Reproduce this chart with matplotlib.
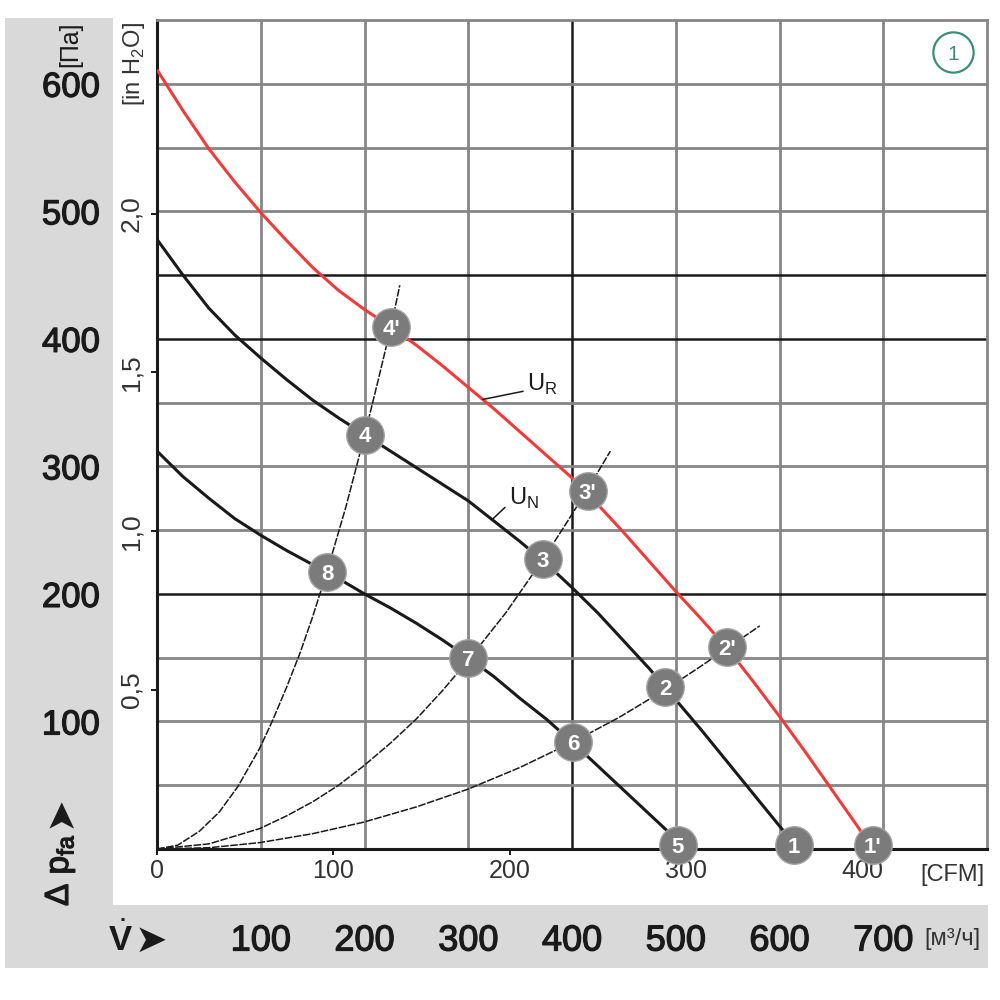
import matplotlib
matplotlib.use("Agg")
import matplotlib.pyplot as plt
import matplotlib.transforms as mtransforms
import matplotlib.patheffects as pe
from matplotlib.patches import Rectangle
from matplotlib import font_manager
import numpy as np

# pick a narrow sans font if there is one
try:
    font_manager.findfont("Liberation Sans Narrow", fallback_to_default=False)
    NARROW = "Liberation Sans Narrow"
except Exception:
    NARROW = "Liberation Sans"

plt.rcParams['font.family'] = [NARROW, 'DejaVu Sans']
plt.rcParams['mathtext.fontset'] = 'custom'
plt.rcParams['mathtext.rm'] = NARROW
plt.rcParams['mathtext.bf'] = NARROW + ':bold'

# fan curves (flow in m3/h, pressure in Pa)
ur_flow = [0, 25, 50, 75, 100, 125, 150, 175, 200, 226, 250, 275, 300, 325, 350, 375,
           400, 425, 450, 475, 500, 525, 550, 575, 600, 625, 650, 675, 690]
ur_pres = [611, 579, 549, 523, 499, 477, 456, 438, 423, 409, 395, 379, 362, 345, 327, 309,
           291, 270, 248, 225, 202, 180, 157, 131, 104, 76, 47, 18, 0]

un_flow = [0, 25, 50, 75, 100, 125, 150, 175, 200, 225, 250, 275, 300, 325, 350, 375,
           400, 425, 450, 475, 500, 525, 550, 575, 600, 618]
un_pres = [478, 450, 424, 403, 385, 368, 352, 338, 325, 312, 299, 286, 273, 257, 241, 224,
           205, 185, 163, 141, 117, 93, 68, 43, 18, 0]

low_flow = [0, 25, 50, 75, 100, 125, 150, 175, 200, 225, 250, 275, 300, 325, 350, 375,
            400, 425, 450, 475, 500, 506]
low_pres = [312, 292, 275, 259, 246, 234, 223, 212, 200, 189, 177, 164, 150, 135, 118, 102,
            84, 65, 46, 27, 8, 0]

# system curves (thin lines through the origin)
sys_a_flow = [0, 20, 41, 60, 78, 99, 111, 125, 138, 150, 164, 182, 200, 213, 226, 234]
sys_a_pres = [0, 3, 14, 29, 49, 79, 100, 127, 154, 182, 218, 268, 324, 367, 411, 442]
sys_b_flow = [0, 50, 99, 125, 150, 175, 199, 225, 250, 275, 300, 336, 372, 395, 415, 437]
sys_b_pres = [0, 4, 16, 26, 37, 50, 65, 83, 102, 124, 148, 185, 227, 256, 282, 312]
sys_c_flow = [0, 50, 99, 150, 199, 250, 300, 350, 401, 445, 490, 520, 549, 581]
sys_c_pres = [0, 1, 5, 12, 21, 33, 47, 64, 84, 103, 125, 141, 157, 175]

# numbered operating points
pt_labels = ["1", "2", "3", "4", "5", "6", "7", "8", "1'", "2'", "3'", "4'"]
pt_flow = [614, 490, 372, 200, 502, 401, 300, 164, 690, 549, 415, 226]
pt_pres = [3, 127, 227, 325, 3, 84, 150, 217, 3, 158, 281, 409]

# axis labels
pa_ticks = [100, 200, 300, 400, 500, 600]
m3h_ticks = [100, 200, 300, 400, 500, 600, 700]
cfm_ticks = [0, 100, 200, 300, 400]
inh2o_ticks = [0.5, 1.0, 1.5, 2.0]
inh2o_labels = ["0,5", "1,0", "1,5", "2,0"]

flow_grid = [100, 200, 300, 400, 500, 600, 700]
pres_grid = [50, 100, 150, 200, 250, 300, 350, 400, 450, 500, 550, 600]
dark_flow = [400]
dark_pres = [200, 400, 450]

GRAY = '#868686'
DARK = '#1a1a1a'
RED = '#ef3b39'
BAND = '#d9d9d9'

# slightly heavier strokes for the big band labels
medium = [pe.withStroke(linewidth=0.9, foreground=DARK)]

fig = plt.figure(figsize=(10, 10), dpi=100)
fig.patch.set_facecolor('white')

# grey L-shaped band, kept behind everything
fig.patches.append(Rectangle((0.005, 0.032), 0.108, 0.950, transform=fig.transFigure,
                             facecolor=BAND, edgecolor='none', zorder=-5))
fig.patches.append(Rectangle((0.005, 0.032), 0.983, 0.063, transform=fig.transFigure,
                             facecolor=BAND, edgecolor='none', zorder=-5))

ax = fig.add_axes([0.157, 0.151, 0.830, 0.829])
ax.set_xlim(0, 800)
ax.set_ylim(0, 650)
ax.set_xticks([])
ax.set_yticks([])

for q in flow_grid:
    dark = q in dark_flow
    ax.axvline(q, color=DARK if dark else GRAY, lw=1.8 if dark else 2.0, zorder=1)
for p in pres_grid:
    dark = p in dark_pres
    ax.axhline(p, color=DARK if dark else GRAY, lw=1.8 if dark else 2.0, zorder=1)

for side in ['left', 'bottom']:
    ax.spines[side].set_color(DARK)
    ax.spines[side].set_linewidth(2.2)
for side in ['top', 'right']:
    ax.spines[side].set_color(GRAY)
    ax.spines[side].set_linewidth(2.0)

# system curves
for fx, py in [(sys_a_flow, sys_a_pres), (sys_b_flow, sys_b_pres), (sys_c_flow, sys_c_pres)]:
    ax.plot(fx, py, color=DARK, lw=1.1, ls=(0, (5, 1)), zorder=2)

# fan curves
ax.plot(low_flow, low_pres, color=DARK, lw=2.2, zorder=3, solid_capstyle='butt')
ax.plot(un_flow, un_pres, color=DARK, lw=2.2, zorder=3, solid_capstyle='butt')
ax.plot(ur_flow, ur_pres, color=RED, lw=2.2, zorder=3, solid_capstyle='butt')

# operating points
for lab, fx, py in zip(pt_labels, pt_flow, pt_pres):
    ax.plot(fx, py, 'o', ms=27, mfc='#7b7b7b', mec='#a3a3a3', mew=1.0,
            clip_on=False, zorder=5)
    ax.text(fx, py, lab, color='white', fontsize=16, fontweight='bold',
            ha='center', va='center_baseline', zorder=6, clip_on=False)

# curve labels
ax.annotate(r'U$_\mathregular{R}$', xy=(314, np.interp(314, ur_flow, ur_pres)),
            xytext=(32, 11), textcoords='offset points', fontsize=17,
            ha='left', va='center', color=DARK,
            arrowprops=dict(arrowstyle='-', lw=1.1, color=DARK, shrinkA=1, shrinkB=0,
                            relpos=(0, 0.25)))
ax.annotate(r'U$_\mathregular{N}$', xy=(323, np.interp(323, un_flow, un_pres)),
            xytext=(12, 15), textcoords='offset points', fontsize=17,
            ha='left', va='center', color=DARK,
            arrowprops=dict(arrowstyle='-', lw=1.1, color=DARK, shrinkA=1, shrinkB=0,
                            relpos=(0, 0.3)))

# circled 1 in the corner
ax.plot([0.959], [0.961], transform=ax.transAxes, marker='o', ms=29, mfc='white',
        mec='#3a8f78', mew=1.6, zorder=6, clip_on=False)
ax.text(0.959, 0.961, '1', transform=ax.transAxes, color='#3a8f78', fontsize=15,
        ha='center', va='center_baseline', zorder=7)

# Pa labels in the left band
tr_y = mtransforms.blended_transform_factory(fig.transFigure, ax.transData)
for p in pa_ticks:
    ax.text(0.100, p, str(p), transform=tr_y, fontsize=25, ha='right',
            va='center_baseline', color=DARK, clip_on=False, path_effects=medium)
fig.text(0.070, 0.956, '[Па]', rotation=90, fontsize=18, ha='center', va='center', color=DARK)

# in H2O axis
sec_y = ax.secondary_yaxis('left', functions=(lambda p: p / 249.09, lambda h: h * 249.09))
sec_y.set_yticks(inh2o_ticks, labels=inh2o_labels, rotation=90, va='center')
sec_y.tick_params(length=4, width=1.4, pad=6, labelsize=19, labelcolor='#333333', color=DARK)
sec_y.spines['left'].set_visible(False)
fig.text(0.134, 0.936, '[in H$_\\mathregular{2}$O]', rotation=90, fontsize=17,
         ha='center', va='center', color='#333333')

# CFM axis
sec_x = ax.secondary_xaxis('bottom', functions=(lambda q: q / 1.699, lambda c: c * 1.699))
sec_x.set_xticks(cfm_ticks, labels=[str(c) for c in cfm_ticks])
sec_x.tick_params(length=4, width=1.4, pad=3, labelsize=18, labelcolor='#333333', color=DARK)
sec_x.spines['bottom'].set_visible(False)
fig.text(0.952, 0.127, '[CFM]', fontsize=17, ha='center', va='center_baseline', color='#333333')

# m3/h labels in the bottom band
tr_x = mtransforms.blended_transform_factory(ax.transData, fig.transFigure)
for q in m3h_ticks:
    ax.text(q, 0.063, str(q), transform=tr_x, fontsize=26, ha='center',
            va='center_baseline', color=DARK, clip_on=False, path_effects=medium)
fig.text(0.952, 0.063, '[м³/ч]', fontsize=17, ha='center', va='center_baseline', color='#333333')

# axis symbols
fig.text(0.120, 0.063, r'$\dot{\mathbf{V}}$', fontsize=25, ha='center', va='center_baseline', color=DARK)
fig.text(0.151, 0.063, '➤', fontsize=28, ha='center', va='center_baseline', color=DARK,
         family='DejaVu Sans')
fig.text(0.060, 0.130, 'Δ p$_\\mathregular{fa}$', rotation=90, fontsize=24,
         ha='center', va='center', color=DARK, path_effects=medium)
fig.text(0.060, 0.188, '➤', rotation=90, fontsize=28, ha='center', va='center', color=DARK,
         family='DejaVu Sans')

fig.savefig('out.png', dpi=100)
